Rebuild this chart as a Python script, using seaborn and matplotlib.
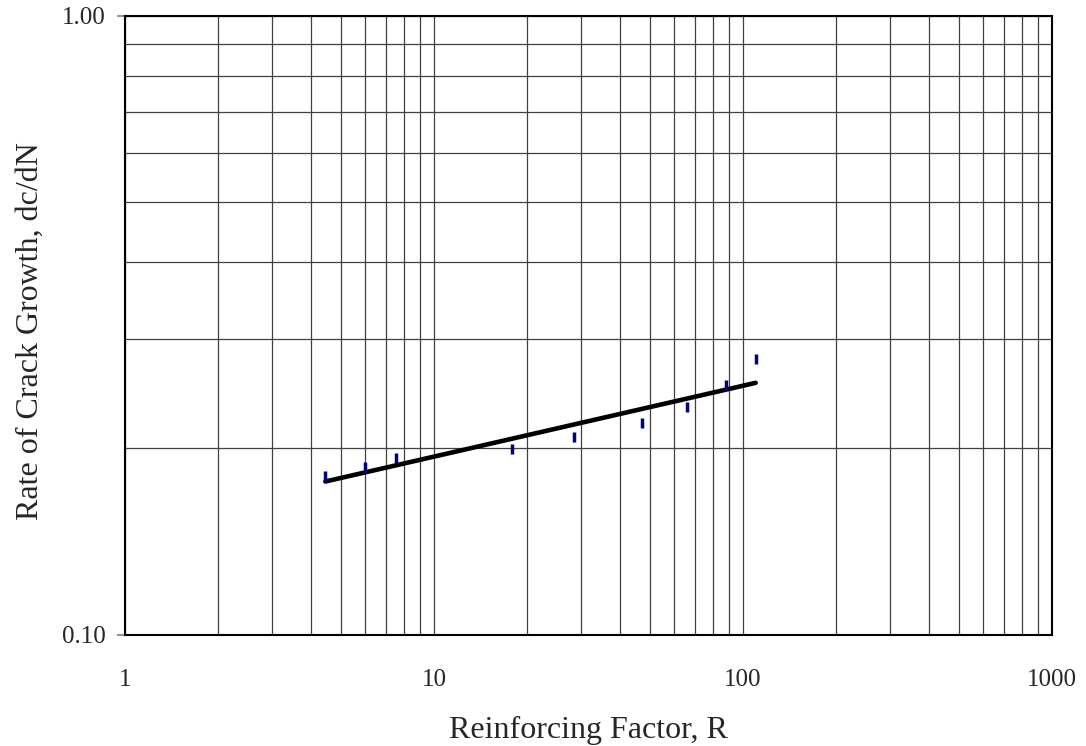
import numpy as np
import pandas as pd
import matplotlib
matplotlib.use("Agg")
import matplotlib.pyplot as plt
import seaborn as sns
from matplotlib.ticker import FixedLocator, FixedFormatter, LogLocator, NullFormatter

# Data
reinforcing_factor = [4.45, 5.98, 7.51, 17.9, 28.3, 47.2, 66.0, 87.8, 109.9]
crack_growth_rate = [0.1802, 0.1866, 0.1927, 0.1997, 0.2086, 0.2201, 0.2332, 0.2529, 0.2786]
x_tick_values = [1, 10, 100, 1000]
x_tick_labels = ["1", "10", "100", "1000"]
y_tick_values = [0.1, 1.0]
y_tick_labels = ["0.10", "1.00"]

df = pd.DataFrame({"R": reinforcing_factor, "rate": crack_growth_rate})

# power-law trendline fitted in log space
coef = np.polyfit(np.log10(df["R"]), np.log10(df["rate"]), 1)
fit_x = np.array([df["R"].min(), df["R"].max()])
fit_df = pd.DataFrame({"R": fit_x, "rate": 10 ** np.polyval(coef, np.log10(fit_x))})

sns.set_style("white")
plt.rcParams["font.family"] = ["Liberation Serif", "DejaVu Serif"]

fig = plt.figure(figsize=(10.86, 7.46), dpi=100)
ax = fig.add_axes([0.1151, 0.1492, 0.9687 - 0.1151, 0.9786 - 0.1492])

ax.set_xscale("log")
ax.set_yscale("log")
ax.set_xlim(1, 1000)
ax.set_ylim(0.1, 1.0)

sns.lineplot(data=fit_df, x="R", y="rate", ax=ax, color="black", linewidth=3.3,
             solid_capstyle="round", zorder=3)
sns.scatterplot(data=df, x="R", y="rate", ax=ax, marker="|", s=55, linewidth=2.5,
                color="#000080", zorder=4)

ax.xaxis.set_major_locator(FixedLocator(x_tick_values))
ax.xaxis.set_major_formatter(FixedFormatter(x_tick_labels))
ax.xaxis.set_minor_locator(LogLocator(base=10, subs=np.arange(2, 10)))
ax.xaxis.set_minor_formatter(NullFormatter())
ax.yaxis.set_major_locator(FixedLocator(y_tick_values))
ax.yaxis.set_major_formatter(FixedFormatter(y_tick_labels))
ax.yaxis.set_minor_locator(LogLocator(base=10, subs=np.arange(2, 10)))
ax.yaxis.set_minor_formatter(NullFormatter())

ax.grid(True, which="both", color="#404040", linewidth=0.9)
ax.set_axisbelow(True)

ax.tick_params(axis="x", which="both", length=0, pad=25, labelsize=18)
ax.tick_params(axis="y", which="major", length=6, width=1.2, color="#808080",
               direction="out", left=True, pad=8, labelsize=18)
ax.tick_params(axis="y", which="minor", length=0)

for sp in ax.spines.values():
    sp.set_visible(True)
    sp.set_color("black")
    sp.set_linewidth(1.5)

ax.set_xlabel("Reinforcing Factor, R", fontsize=23, labelpad=18)
ax.set_ylabel("Rate of Crack Growth, dc/dN", fontsize=23)
ax.yaxis.set_label_coords(-0.087, 0.491)

fig.savefig("out.png", dpi=100)
